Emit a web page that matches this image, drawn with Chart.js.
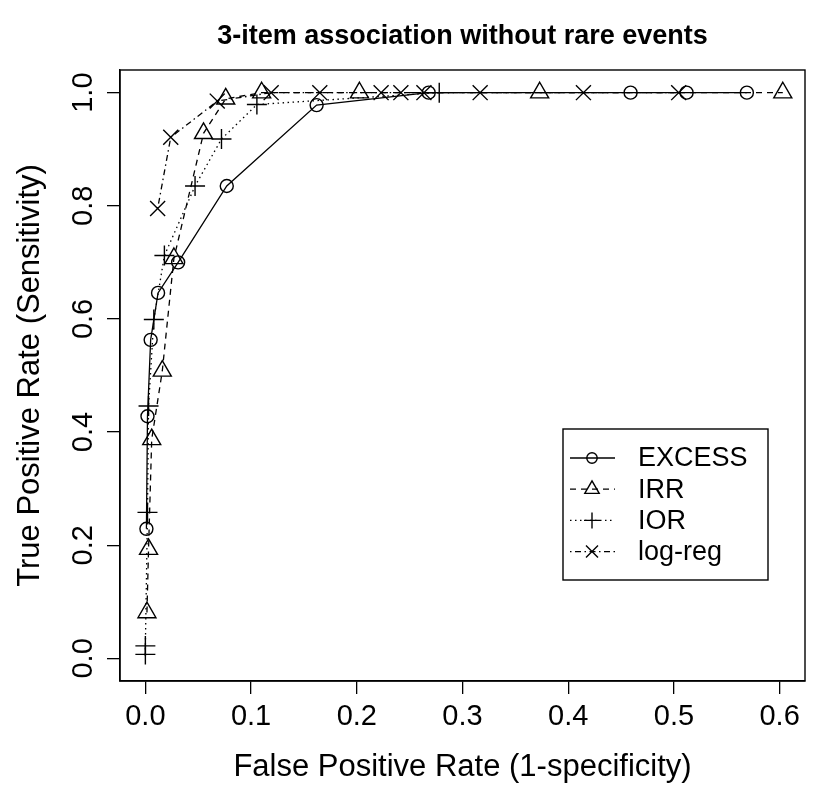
<!DOCTYPE html>
<html>
<head>
<meta charset="utf-8">
<script src="https://cdn.jsdelivr.net/npm/chart.js@4.4.0/dist/chart.umd.min.js"></script>
<style>
  html, body { margin: 0; padding: 0; background: #fff; }
  #wrap { width: 817px; height: 789px; }
</style>
</head>
<body>
<div id="wrap"><canvas id="roc" width="817" height="789"></canvas></div>
<script>
// valeurs
const xTicks = [0, 0.1, 0.2, 0.3, 0.4, 0.5, 0.6];
const yTicks = [0, 0.2, 0.4, 0.6, 0.8, 1.0];
const seriesNames = ['EXCESS', 'IRR', 'IOR', 'log-reg'];

const excessFpr = [0.001, 0.002, 0.005, 0.012, 0.031, 0.077, 0.162, 0.268, 0.459, 0.512, 0.569];
const excessTpr = [0.229, 0.428, 0.563, 0.646, 0.700, 0.835, 0.978, 1.0, 1.0, 1.0, 1.0];

const irrFpr = [0.0015, 0.003, 0.006, 0.016, 0.027, 0.055, 0.076, 0.110, 0.2025, 0.373, 0.603];
const irrTpr = [0.081, 0.193, 0.387, 0.508, 0.707, 0.928, 0.989, 1.0, 1.0, 1.0, 1.0];

const iorFpr = [0.0, 0.0, 0.002, 0.003, 0.008, 0.018, 0.047, 0.072, 0.1055, 0.278];
const iorTpr = [0.007, 0.022, 0.258, 0.446, 0.599, 0.712, 0.835, 0.918, 0.979, 1.0];

const logregFpr = [0.0116, 0.024, 0.068, 0.119, 0.165, 0.223, 0.2417, 0.2635, 0.3167, 0.4144, 0.5045];
const logregTpr = [0.795, 0.921, 0.985, 1.0, 1.0, 1.0, 1.0, 1.0, 1.0, 1.0, 1.0];

const FONT = '"Liberation Sans", Arial, Helvetica, sans-serif';

// style de chaque courbe (comme lty / pch de R)
const styles = [
  { pointStyle: 'circle', radius: 6.5, dash: [] },
  { pointStyle: 'triangle', radius: 10.4, dash: [6, 5] },
  { pointStyle: 'cross', radius: 10, dash: [1.5, 3.5] },
  { pointStyle: 'crossRot', radius: 10.6, dash: [1.5, 3.5, 6, 3.5] }
];

function pts(xs, ys) {
  return xs.map((x, i) => ({ x: x, y: ys[i] }));
}

const allData = [
  pts(excessFpr, excessTpr),
  pts(irrFpr, irrTpr),
  pts(iorFpr, iorTpr),
  pts(logregFpr, logregTpr)
];

const datasets = seriesNames.map((name, i) => ({
  label: name,
  data: allData[i],
  showLine: true,
  borderColor: '#000',
  borderWidth: 1.3,
  borderDash: styles[i].dash,
  tension: 0,
  pointStyle: styles[i].pointStyle,
  pointRadius: styles[i].radius,
  pointBorderColor: '#000',
  pointBackgroundColor: 'rgba(0,0,0,0)',
  pointBorderWidth: 1.4
}));

// cadre + légende à la R
const rPlot = {
  id: 'rPlot',
  afterDraw(chart) {
    const ctx = chart.ctx;
    const a = chart.chartArea;
    ctx.save();
    ctx.strokeStyle = '#000';
    ctx.lineWidth = 1.4;
    ctx.setLineDash([]);
    ctx.strokeRect(a.left, a.top, a.right - a.left, a.bottom - a.top);

    const lx = 563, ly = 429, lw = 205, lh = 151;
    ctx.strokeRect(lx, ly, lw, lh);
    const rowH = 31.2;
    ctx.font = '27px ' + FONT;
    ctx.textBaseline = 'middle';
    ctx.textAlign = 'left';
    seriesNames.forEach((name, i) => {
      const y = ly + 29 + i * rowH;
      ctx.lineWidth = 1.3;
      ctx.setLineDash(styles[i].dash);
      ctx.beginPath();
      ctx.moveTo(570, y);
      ctx.lineTo(615, y);
      ctx.stroke();
      ctx.setLineDash([]);
      ctx.lineWidth = 1.4;
      ctx.fillStyle = 'rgba(0,0,0,0)';
      Chart.helpers.drawPoint(ctx, {
        pointStyle: styles[i].pointStyle,
        radius: styles[i].radius * 0.8,
        rotation: 0,
        borderWidth: 1.4
      }, 592, y);
      ctx.fillStyle = '#000';
      ctx.fillText(name, 638, y + 1);
    });
    ctx.restore();
  }
};

const ctx = document.getElementById('roc').getContext('2d');
new Chart(ctx, {
  type: 'scatter',
  data: { datasets: datasets },
  plugins: [rPlot],
  options: {
    responsive: false,
    animation: false,
    devicePixelRatio: 1,
    layout: { padding: { left: 0, right: 6, top: 0, bottom: 0 } },
    plugins: {
      legend: { display: false },
      tooltip: { enabled: false },
      title: {
        display: true,
        fullSize: false,
        text: '3-item association without rare events',
        color: '#000',
        font: { family: FONT, size: 27, weight: 'bold' },
        padding: { top: 20, bottom: 17.6 }
      }
    },
    scales: {
      x: {
        type: 'linear',
        min: -0.024,
        max: 0.624,
        afterBuildTicks: (s) => { s.ticks = xTicks.map(v => ({ value: v })); },
        afterFit: (s) => { s.height = 108; },
        grid: { drawOnChartArea: false, drawTicks: true, tickLength: 13, color: '#000', lineWidth: 1.3 },
        border: { display: true, color: '#000', width: 1.4 },
        ticks: {
          color: '#000',
          font: { family: FONT, size: 29 },
          padding: 6,
          maxRotation: 0,
          autoSkip: false,
          callback: (v) => v.toFixed(1)
        },
        title: {
          display: true,
          text: 'False Positive Rate (1-specificity)',
          color: '#000',
          font: { family: FONT, size: 31 },
          padding: { top: 0, bottom: 3 }
        }
      },
      y: {
        type: 'linear',
        min: -0.04,
        max: 1.04,
        afterBuildTicks: (s) => { s.ticks = yTicks.map(v => ({ value: v })); },
        afterFit: (s) => { s.width = 120; },
        grid: { drawOnChartArea: false, drawTicks: true, tickLength: 13, color: '#000', lineWidth: 1.3 },
        border: { display: true, color: '#000', width: 1.4 },
        ticks: {
          color: '#000',
          font: { family: FONT, size: 29 },
          padding: 3,
          minRotation: 90,
          maxRotation: 90,
          crossAlign: 'center',
          autoSkip: false,
          callback: (v) => v.toFixed(1)
        },
        title: {
          display: true,
          text: 'True Positive Rate (Sensitivity)',
          color: '#000',
          font: { family: FONT, size: 31 },
          padding: { top: 12, bottom: 0 }
        }
      }
    }
  }
});
</script>
</body>
</html>
